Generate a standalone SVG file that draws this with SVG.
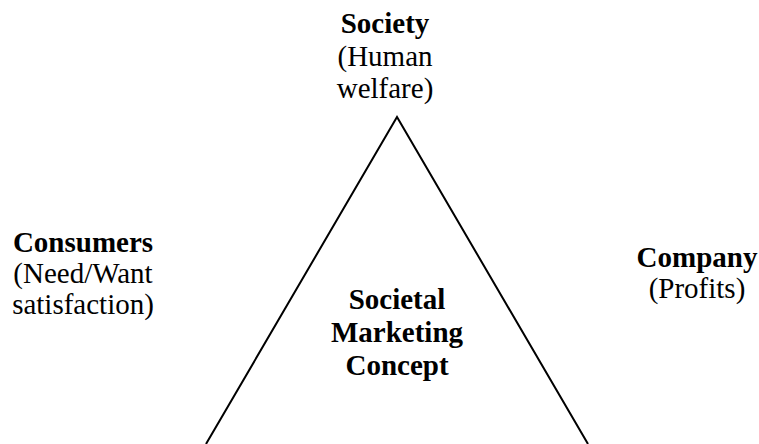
<svg xmlns="http://www.w3.org/2000/svg" width="759" height="444" viewBox="0 0 759 444">
<style>
text{font-family:"Liberation Serif","Times New Roman",serif;font-size:29px;fill:#000;text-anchor:middle}
.b{font-weight:bold}
.ln{stroke:#000;stroke-width:2;fill:none}
</style>
<rect width="759" height="444" fill="#fff"/>
<g id="connectors">
<path class="ln" d="M206,444 L397,117 L588,444"/>
</g>
<g id="society">
<text class="b" x="385" y="33">Society</text>
<text x="385" y="66">(Human</text>
<text x="385" y="98">welfare)</text>
</g>
<g id="consumers">
<text class="b" x="83" y="252">Consumers</text>
<text x="83" y="283">(Need/Want</text>
<text x="83" y="314">satisfaction)</text>
</g>
<g id="company">
<text class="b" x="697" y="267">Company</text>
<text x="697" y="298">(Profits)</text>
</g>
<g id="concept">
<text class="b" x="397" y="309">Societal</text>
<text class="b" x="397" y="342">Marketing</text>
<text class="b" x="397" y="375">Concept</text>
</g>
</svg>
